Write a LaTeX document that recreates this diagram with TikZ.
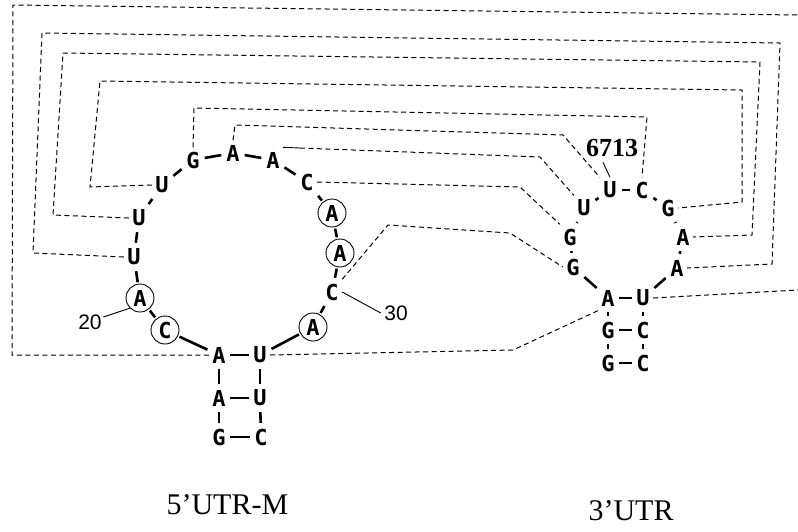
\documentclass[tikz,border=0pt]{standalone}
\usepackage{fontspec}
\setmainfont{Liberation Serif}
\newfontfamily\ntfont{DejaVu Sans Mono}
\newfontfamily\numfont{Liberation Sans}
\usepackage{tikz}
\usetikzlibrary{positioning}

\begin{document}
\begin{tikzpicture}[
  x=1pt, y=-1pt,
  nt/.style={rectangle, inner sep=0pt, minimum width=20pt, minimum height=25pt, font=\ntfont\bfseries\fontsize{22}{22}\selectfont},
  ntc/.style={nt, circle, draw, line width=0.9pt, minimum size=28pt},
  bb/.style={line width=2.6pt, shorten <=1.5pt, shorten >=1.5pt},
  bp/.style={line width=2.2pt, shorten <=1pt, shorten >=1pt},
  pair/.style={dashed, dash pattern=on 5pt off 3.5pt, line width=1pt},
  tick/.style={line width=0.9pt},
  numlbl/.style={font=\numfont\fontsize{21}{21}\selectfont},
  title/.style={font=\fontsize{30}{30}\selectfont, anchor=base west}
]
  \useasboundingbox (0,0) rectangle (798,531);

  % 5'UTR-M hairpin: stem
  \node[nt] (g16) at (219,437) {G};
  \node[nt] (a17) at (219,398) {A};
  \node[nt] (a18) at (219,355) {A};
  \node[nt] (u32) at (260,355) {U};
  \node[nt] (u33) at (260,398) {U};
  \node[nt] (c34) at (261,437) {C};

  % 5'UTR-M hairpin: loop
  \node[ntc] (c19) at (165,330) {C};
  \node[ntc] (a20) at (140,298) {A};
  \node[nt]  (u21) at (134,257) {U};
  \node[nt]  (u22) at (139,218) {U};
  \node[nt]  (u23) at (162,185) {U};
  \node[nt]  (g24) at (193,160) {G};
  \node[nt]  (a25) at (233,153) {A};
  \node[nt]  (a26) at (273,160) {A};
  \node[nt]  (c27) at (307,182) {C};
  \node[ntc] (a28) at (332,213) {A};
  \node[ntc] (a29) at (340,253) {A};
  \node[nt]  (c30) at (332,292) {C};
  \node[ntc] (a31) at (313,327) {A};

  % 3'UTR hairpin
  \node[nt] (g6707) at (608,363) {G};
  \node[nt] (g6708) at (608,330) {G};
  \node[nt] (a6709) at (608,298) {A};
  \node[nt] (g6710) at (573,267) {G};
  \node[nt] (g6711) at (570,237) {G};
  \node[nt] (u6712) at (584,208) {U};
  \node[nt] (u6713) at (610,190) {U};
  \node[nt] (c6714) at (642,190) {C};
  \node[nt] (g6715) at (668,208) {G};
  \node[nt] (a6716) at (683,237) {A};
  \node[nt] (a6717) at (677,268) {A};
  \node[nt] (u6718) at (643,298) {U};
  \node[nt] (c6719) at (643,330) {C};
  \node[nt] (c6720) at (643,363) {C};

  % backbone
  \foreach \a/\b in {g16/a17, a17/a18, a18/c19, c19/a20, a20/u21, u21/u22, u22/u23,
      u23/g24, g24/a25, a25/a26, a26/c27, c27/a28, a28/a29, a29/c30, c30/a31, a31/u32,
      u32/u33, u33/c34,
      g6707/g6708, g6708/a6709, a6709/g6710, g6710/g6711, g6711/u6712, u6712/u6713,
      u6713/c6714, c6714/g6715, g6715/a6716, a6716/a6717, a6717/u6718, u6718/c6719,
      c6719/c6720}
    \draw[bb] (\a) -- (\b);

  % stem pairs
  \foreach \a/\b in {a18/u32, a17/u33, g16/c34, a6709/u6718, g6708/c6719, g6707/c6720}
    \draw[bp] (\a) -- (\b);

  % position labels
  \node[numlbl] (n20) at (90,322) {20};
  \node[numlbl] (n30) at (396,313) {30};
  \node[font=\bfseries\fontsize{26}{26}\selectfont] (n6713) at (612,148) {6713};
  \draw[tick] (n20.north east) ++(-2,6) -- (a20.south west);
  \draw[tick] (c30.east) -- (n30.west);
  \draw[tick] (n6713.south) ++(-9,2) .. controls (606,170) .. (u6713.north);

  % free ends at the right border
  \coordinate (outA) at (798,15);
  \coordinate (outU) at (798,290);

  % long-range pairing
  \draw[pair] (a18.west) -- (12,355) -- (13,5) -- (outA);
  \draw[pair] (u32.east) -- (513,350) -- (a6709.south west);
  \draw[pair] (u21.west) -- (33,253) -- (42,33) -- (780,43) -- (772,264) -- (a6717.east);
  \draw[pair] (u22.west) -- (53,215) -- (63,53) -- (760,62) -- (752,235) -- (a6716.east);
  \draw[pair] (u23.west) -- (90,187) -- (100,81) -- (742,90) -- (742,202) -- (g6715.east);
  \draw[pair] (g24.north) -- (194,108) -- (647,117) -- (c6714.north);
  \draw[pair] (a25.north) -- (235,125) -- (563,135) -- (u6713.north west);
  \draw[tick] (a26.north east) -- (300,148);
  \draw[pair] (300,148) -- (540,157) -- (u6712.north west);
  \draw[pair] (c27.east) -- (520,187) -- (g6711.north west);
  \draw[pair] (c30.north east) -- (388,225) -- (510,233) -- (g6710.west);
  \draw[pair] (u6718.east) -- (outU);

  % titles
  \node[title] (t5) at (163,514) {5’UTR-M};
  \node[title] (t3) at (585,520) {3’UTR};
\end{tikzpicture}
\end{document}
